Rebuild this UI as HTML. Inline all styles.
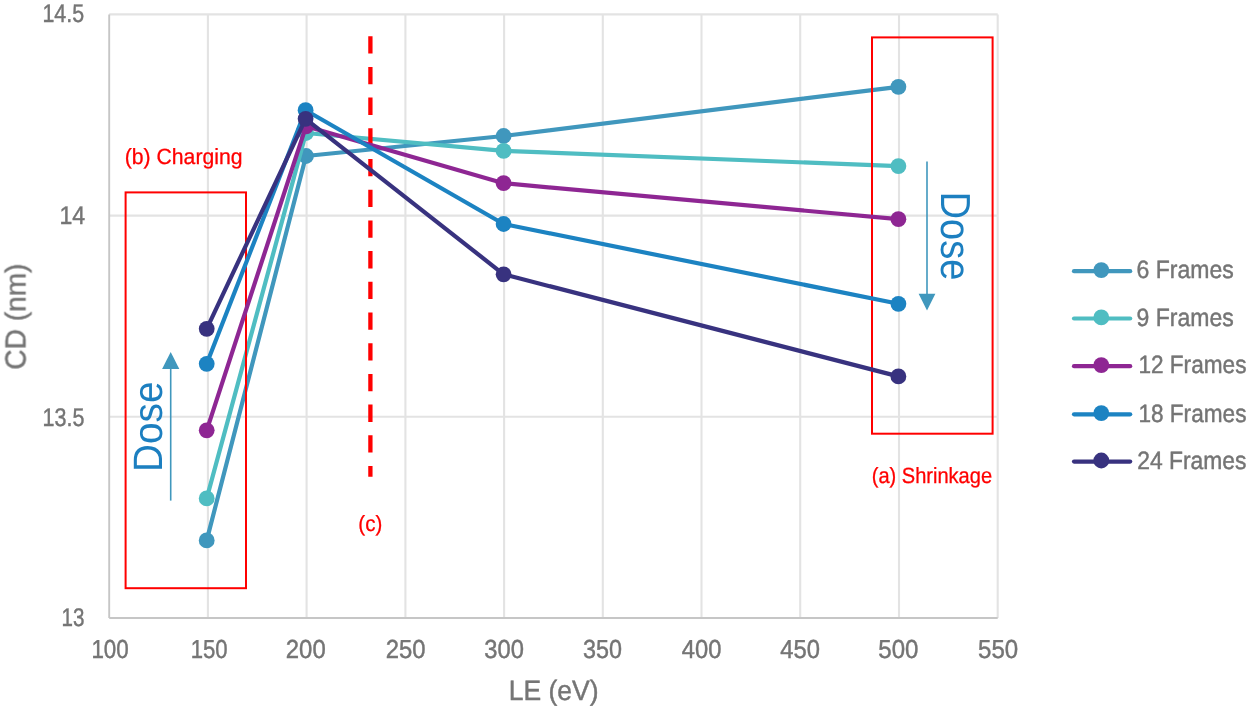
<!DOCTYPE html>
<html><head><meta charset="utf-8"><title>Chart</title>
<style>html,body{margin:0;padding:0;background:#fff;overflow:hidden}body{width:1250px;height:712px;font-family:"Liberation Sans",sans-serif}</style></head>
<body>
<svg width="1250" height="712" viewBox="0 0 1250 712" style="will-change:transform;display:block;font-family:'Liberation Sans',sans-serif;text-rendering:geometricPrecision">
<defs><filter id="soft" x="0" y="0" width="1250" height="712" filterUnits="userSpaceOnUse"><feGaussianBlur stdDeviation="0.45"/></filter></defs>
<rect width="1250" height="712" fill="#fff"/>
<g filter="url(#soft)">
<line x1="207.9" y1="14.4" x2="207.9" y2="618.0" stroke="#e3e3e3" stroke-width="2.1"/>
<line x1="306.6" y1="14.4" x2="306.6" y2="618.0" stroke="#e3e3e3" stroke-width="2.1"/>
<line x1="405.4" y1="14.4" x2="405.4" y2="618.0" stroke="#e3e3e3" stroke-width="2.1"/>
<line x1="504.1" y1="14.4" x2="504.1" y2="618.0" stroke="#e3e3e3" stroke-width="2.1"/>
<line x1="602.8" y1="14.4" x2="602.8" y2="618.0" stroke="#e3e3e3" stroke-width="2.1"/>
<line x1="701.5" y1="14.4" x2="701.5" y2="618.0" stroke="#e3e3e3" stroke-width="2.1"/>
<line x1="800.2" y1="14.4" x2="800.2" y2="618.0" stroke="#e3e3e3" stroke-width="2.1"/>
<line x1="899.0" y1="14.4" x2="899.0" y2="618.0" stroke="#e3e3e3" stroke-width="2.1"/>
<line x1="997.7" y1="14.4" x2="997.7" y2="618.0" stroke="#e3e3e3" stroke-width="2.1"/>
<line x1="109.2" y1="416.8" x2="997.7" y2="416.8" stroke="#e3e3e3" stroke-width="2.1"/>
<line x1="109.2" y1="215.6" x2="997.7" y2="215.6" stroke="#e3e3e3" stroke-width="2.1"/>
<line x1="109.2" y1="14.4" x2="997.7" y2="14.4" stroke="#e3e3e3" stroke-width="2.1"/>
<line x1="109.2" y1="14.4" x2="109.2" y2="618.0" stroke="#c6c6c6" stroke-width="1.9"/>
<line x1="109.2" y1="618.0" x2="997.7" y2="618.0" stroke="#c6c6c6" stroke-width="1.9"/>
<text x="42.40" y="22.3" font-size="25.6" textLength="41.68" lengthAdjust="spacingAndGlyphs" fill="#747474" stroke="#747474" stroke-width="0.45">14.5</text>
<text x="59.40" y="224.4" font-size="25.6" textLength="25.68" lengthAdjust="spacingAndGlyphs" fill="#747474" stroke="#747474" stroke-width="0.45">14</text>
<text x="42.58" y="425.5" font-size="25.6" textLength="41.86" lengthAdjust="spacingAndGlyphs" fill="#747474" stroke="#747474" stroke-width="0.45">13.5</text>
<text x="61.44" y="626.0" font-size="25.6" textLength="22.88" lengthAdjust="spacingAndGlyphs" fill="#747474" stroke="#747474" stroke-width="0.45">13</text>
<text x="91.40" y="658.3" font-size="26" textLength="37.32" lengthAdjust="spacingAndGlyphs" fill="#747474" stroke="#747474" stroke-width="0.45">100</text>
<text x="190.66" y="658.3" font-size="26" textLength="36.96" lengthAdjust="spacingAndGlyphs" fill="#747474" stroke="#747474" stroke-width="0.45">150</text>
<text x="285.84" y="658.3" font-size="26" textLength="39.88" lengthAdjust="spacingAndGlyphs" fill="#747474" stroke="#747474" stroke-width="0.45">200</text>
<text x="385.66" y="658.3" font-size="26" textLength="39.78" lengthAdjust="spacingAndGlyphs" fill="#747474" stroke="#747474" stroke-width="0.45">250</text>
<text x="484.28" y="658.3" font-size="26" textLength="39.62" lengthAdjust="spacingAndGlyphs" fill="#747474" stroke="#747474" stroke-width="0.45">300</text>
<text x="582.92" y="658.3" font-size="26" textLength="38.98" lengthAdjust="spacingAndGlyphs" fill="#747474" stroke="#747474" stroke-width="0.45">350</text>
<text x="681.82" y="658.3" font-size="26" textLength="39.62" lengthAdjust="spacingAndGlyphs" fill="#747474" stroke="#747474" stroke-width="0.45">400</text>
<text x="780.36" y="658.3" font-size="26" textLength="39.72" lengthAdjust="spacingAndGlyphs" fill="#747474" stroke="#747474" stroke-width="0.45">450</text>
<text x="878.30" y="658.3" font-size="26" textLength="40.14" lengthAdjust="spacingAndGlyphs" fill="#747474" stroke="#747474" stroke-width="0.45">500</text>
<text x="978.02" y="658.3" font-size="26" textLength="40.14" lengthAdjust="spacingAndGlyphs" fill="#747474" stroke="#747474" stroke-width="0.45">550</text>
<text x="508.68" y="700.1" font-size="28" textLength="89.92" lengthAdjust="spacingAndGlyphs" fill="#747474" stroke="#747474" stroke-width="0.45">LE (eV)</text>
<g transform="translate(25.5,369.70) rotate(-90)"><text x="0" y="0" font-size="29" textLength="106.22" lengthAdjust="spacingAndGlyphs" fill="#747474" stroke="#747474" stroke-width="0.45">CD (nm)</text></g>
<polyline points="206.7,540.4 306.0,156.0 503.6,136.0 898.4,86.8" fill="none" stroke="#3f97bd" stroke-width="4.2" stroke-linejoin="round" stroke-linecap="round"/>
<circle cx="206.7" cy="540.4" r="7.9" fill="#3f97bd"/>
<circle cx="306.0" cy="156.0" r="7.9" fill="#3f97bd"/>
<circle cx="503.6" cy="136.0" r="7.9" fill="#3f97bd"/>
<circle cx="898.4" cy="86.8" r="7.9" fill="#3f97bd"/>
<polyline points="206.7,498.4 306.0,133.0 503.6,150.9 898.4,166.1" fill="none" stroke="#4fbdc2" stroke-width="4.2" stroke-linejoin="round" stroke-linecap="round"/>
<circle cx="206.7" cy="498.4" r="7.9" fill="#4fbdc2"/>
<circle cx="306.0" cy="133.0" r="7.9" fill="#4fbdc2"/>
<circle cx="503.6" cy="150.9" r="7.9" fill="#4fbdc2"/>
<circle cx="898.4" cy="166.1" r="7.9" fill="#4fbdc2"/>
<rect x="125.6" y="192.4" width="120.4" height="395.8" fill="none" stroke="#ff0000" stroke-width="2"/>
<rect x="872.0" y="37.4" width="120.6" height="396.3" fill="none" stroke="#ff0000" stroke-width="2"/>
<line x1="370.4" y1="36.2" x2="370.4" y2="476.8" stroke="#ff0000" stroke-width="4.3" stroke-dasharray="17.3 13.4"/>
<polyline points="206.7,430.3 306.0,126.3 503.6,183.2 898.4,219.2" fill="none" stroke="#8e2893" stroke-width="4.2" stroke-linejoin="round" stroke-linecap="round"/>
<circle cx="206.7" cy="430.3" r="7.9" fill="#8e2893"/>
<circle cx="306.0" cy="126.3" r="7.9" fill="#8e2893"/>
<circle cx="503.6" cy="183.2" r="7.9" fill="#8e2893"/>
<circle cx="898.4" cy="219.2" r="7.9" fill="#8e2893"/>
<polyline points="206.7,363.8 305.6,110.2 503.6,224.0 898.4,303.8" fill="none" stroke="#1c83c2" stroke-width="4.2" stroke-linejoin="round" stroke-linecap="round"/>
<circle cx="206.7" cy="363.8" r="7.9" fill="#1c83c2"/>
<circle cx="305.6" cy="110.2" r="7.9" fill="#1c83c2"/>
<circle cx="503.6" cy="224.0" r="7.9" fill="#1c83c2"/>
<circle cx="898.4" cy="303.8" r="7.9" fill="#1c83c2"/>
<polyline points="206.7,328.8 305.6,118.8 503.6,274.3 898.4,376.4" fill="none" stroke="#38337f" stroke-width="4.2" stroke-linejoin="round" stroke-linecap="round"/>
<circle cx="206.7" cy="328.8" r="7.9" fill="#38337f"/>
<circle cx="305.6" cy="118.8" r="7.9" fill="#38337f"/>
<circle cx="503.6" cy="274.3" r="7.9" fill="#38337f"/>
<circle cx="898.4" cy="376.4" r="7.9" fill="#38337f"/>
<text x="124.76" y="163.8" font-size="22" textLength="117.76" lengthAdjust="spacingAndGlyphs" fill="#ff0000" stroke="#ff0000" stroke-width="0.3">(b) Charging</text>
<text x="871.76" y="482.9" font-size="22" textLength="120.32" lengthAdjust="spacingAndGlyphs" fill="#ff0000" stroke="#ff0000" stroke-width="0.3">(a) Shrinkage</text>
<text x="358.30" y="531.0" font-size="22" textLength="23.94" lengthAdjust="spacingAndGlyphs" fill="#ff0000" stroke="#ff0000" stroke-width="0.3">(c)</text>
<line x1="170.7" y1="500.6" x2="170.7" y2="368" stroke="#3f97bd" stroke-width="1.6"/>
<polygon points="170.7,352.1 162.1,369.1 179.3,369.1" fill="#3f97bd"/>
<line x1="927.0" y1="161.5" x2="927.0" y2="295" stroke="#3f97bd" stroke-width="1.6"/>
<polygon points="927.0,310.4 918.6,293.7 935.4,293.7" fill="#3f97bd"/>
<g transform="translate(162.4,471.92) rotate(-90)"><text x="0" y="0" font-size="41" textLength="90.42" lengthAdjust="spacingAndGlyphs" fill="#1c7fc0" stroke="#1c7fc0" stroke-width="0">Dose</text></g>
<g transform="translate(941.0,191.62) rotate(90)"><text x="0" y="0" font-size="42" textLength="88.80" lengthAdjust="spacingAndGlyphs" fill="#1c7fc0" stroke="#1c7fc0" stroke-width="0">Dose</text></g>
<line x1="1074.0" y1="271.2" x2="1130.2" y2="271.2" stroke="#3f97bd" stroke-width="4.2" stroke-linecap="round"/>
<circle cx="1101.3" cy="270.1" r="7.9" fill="#3f97bd"/>
<text x="1136.48" y="278.4" font-size="25" textLength="97.24" lengthAdjust="spacingAndGlyphs" fill="#747474" stroke="#747474" stroke-width="0.45">6 Frames</text>
<line x1="1074.0" y1="318.5" x2="1130.2" y2="318.5" stroke="#4fbdc2" stroke-width="4.2" stroke-linecap="round"/>
<circle cx="1101.3" cy="317.4" r="7.9" fill="#4fbdc2"/>
<text x="1136.48" y="325.7" font-size="25" textLength="97.24" lengthAdjust="spacingAndGlyphs" fill="#747474" stroke="#747474" stroke-width="0.45">9 Frames</text>
<line x1="1074.0" y1="366.2" x2="1130.2" y2="366.2" stroke="#8e2893" stroke-width="4.2" stroke-linecap="round"/>
<circle cx="1101.3" cy="365.1" r="7.9" fill="#8e2893"/>
<text x="1138.40" y="373.4" font-size="25" textLength="108.04" lengthAdjust="spacingAndGlyphs" fill="#747474" stroke="#747474" stroke-width="0.45">12 Frames</text>
<line x1="1074.0" y1="414.3" x2="1130.2" y2="414.3" stroke="#1c83c2" stroke-width="4.2" stroke-linecap="round"/>
<circle cx="1101.3" cy="413.2" r="7.9" fill="#1c83c2"/>
<text x="1138.40" y="421.5" font-size="25" textLength="108.04" lengthAdjust="spacingAndGlyphs" fill="#747474" stroke="#747474" stroke-width="0.45">18 Frames</text>
<line x1="1074.0" y1="461.6" x2="1130.2" y2="461.6" stroke="#38337f" stroke-width="4.2" stroke-linecap="round"/>
<circle cx="1101.3" cy="460.5" r="7.9" fill="#38337f"/>
<text x="1137.20" y="468.8" font-size="25" textLength="109.24" lengthAdjust="spacingAndGlyphs" fill="#747474" stroke="#747474" stroke-width="0.45">24 Frames</text>
</g>
</svg>
</body></html>
